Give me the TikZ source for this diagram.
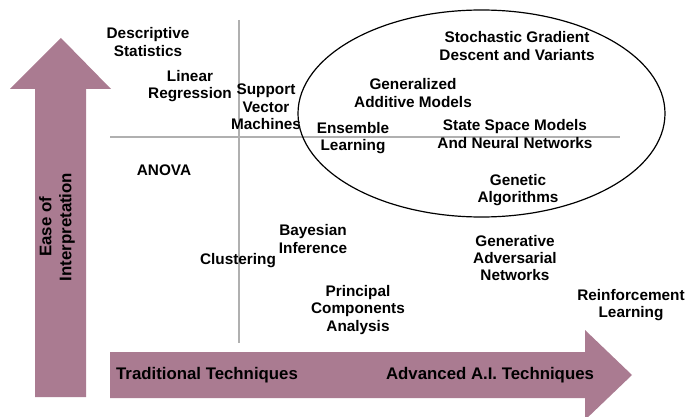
\documentclass[tikz,border=0pt]{standalone}
\usepackage{fontspec}
\setmainfont{Liberation Sans}
\definecolor{mauve}{HTML}{AA7B91}
\definecolor{axisgray}{HTML}{B0B0B0}
\begin{document}
\begin{tikzpicture}[x=0.75pt,y=-0.75pt,
  lbl/.style={font=\fontsize{11.5}{13.1}\selectfont\bfseries, align=center, inner sep=0pt},
  biglbl/.style={font=\fontsize{12.6}{15}\selectfont\bfseries, align=center, inner sep=0pt},
  axisline/.style={draw=axisgray, line width=2.2pt}]
\useasboundingbox (0,0) rectangle (686,417);
% arrows
\fill[mauve] (35,397) -- (35,89) -- (10,89) -- (61,38) -- (111,89) -- (86,89) -- (86,397) -- cycle;
\fill[mauve] (110,352) -- (585,352) -- (585,330) -- (632,375) -- (585,420) -- (585,398) -- (110,398) -- cycle;
% axes
\coordinate (vt) at (239,20); \coordinate (vb) at (239,343);
\coordinate (hl) at (110,137); \coordinate (hr) at (620,137);
\draw[axisline] (vt) -- (vb);
\draw[axisline] (hl) -- (hr);
% ellipse
\draw[line width=0.9pt] (481.5,113.5) ellipse [x radius=183.5, y radius=103.5];
% labels
\node[lbl] (ds) at (148,42) {Descriptive\\Statistics};
\node[lbl] (lr) at (190,86) {Linear\\Regression};
\node[lbl] (svm) at (266,107) {Support\\Vector\\Machines};
\node[lbl] (anova) at (164,170) {ANOVA};
\node[lbl] (ens) at (353,138) {Ensemble\\Learning};
\node[lbl] (gam) at (413,93) {Generalized\\Additive Models};
\node[lbl] (sgd) at (517,46) {Stochastic Gradient\\Descent and Variants};
\node[lbl] (ssm) at (515,134) {State Space Models\\And Neural Networks};
\node[lbl] (ga) at (518,190) {Genetic\\Algorithms};
\node[lbl] (bi) at (313,239) {Bayesian\\Inference};
\node[lbl] (cl) at (238,261) {Clustering};
\node[lbl] (pca) at (358,310) {Principal\\Components\\Analysis};
\node[lbl] (gan) at (515,258) {Generative\\Adversarial\\Networks};
\node[lbl] (rl) at (631,305) {Reinforcement\\Learning};
\node[biglbl] (tt) at (207,375) {Traditional Techniques};
\node[biglbl] (at) at (490,375) {Advanced A.I. Techniques};
\node[biglbl, rotate=90] (ei) at (57,227) {Ease of\\Interpretation};
\end{tikzpicture}
\end{document}
